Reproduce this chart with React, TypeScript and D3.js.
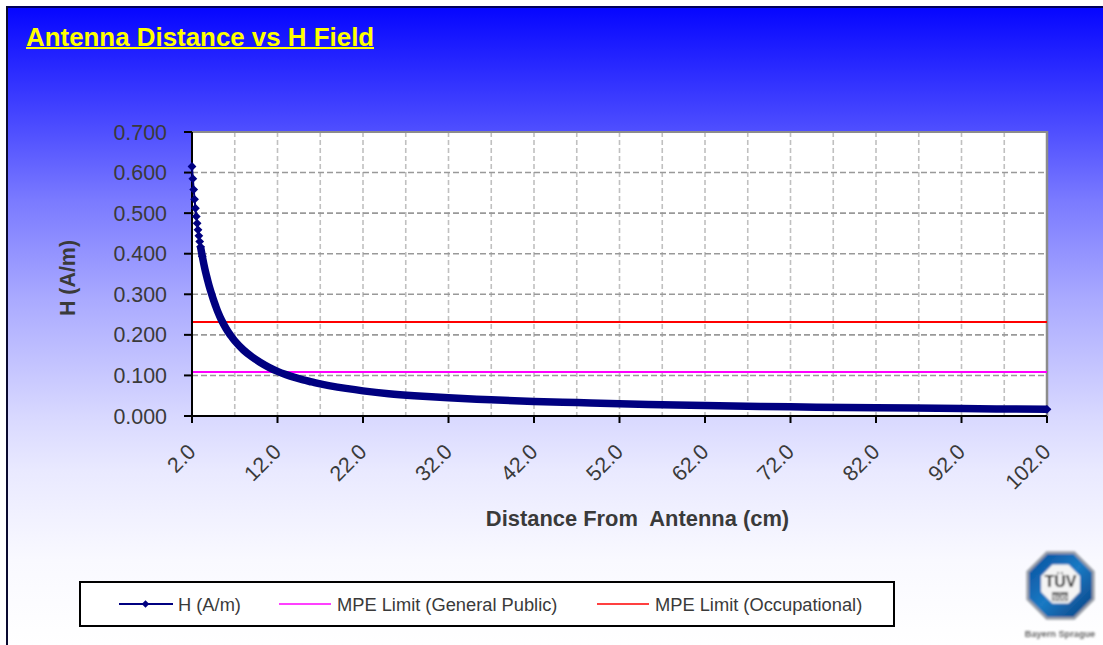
import React from "react";
import * as d3 from "d3";

const chartTitle = "Antenna Distance vs H Field";
const xAxisTitle = "Distance From  Antenna (cm)";
const yAxisTitle = "H (A/m)";
const distances = [2.0,2.1,2.2,2.3,2.4,2.5,2.6,2.7,2.8,2.9,3.0,3.2,3.4,3.6,3.8,4.0,4.27,4.5,4.75,5,5.46,6,6.5,7,8,9,10,11,12,13,14,15,16,17,18,20,22,25,28,32,37,42,47,52,57,62,72,82,92,102];
const hValues = [.615,.585,.558,.534,.512,.492,.475,.459,.444,.43,.417,.394,.373,.354,.337,.321,.302,.287,.272,.258,.236,.215,.199,.185,.163,.146,.132,.12,.11,.102,.095,.089,.084,.079,.075,.068,.062,.055,.05,.045,.04,.036,.033,.03,.028,.026,.0225,.0205,.0182,.0165];
const mpeGeneral = 0.1085;
const mpeOccupational = 0.2317;
const xTickValues = [2,12,22,32,42,52,62,72,82,92,102];
const xGridValues = [7,12,17,22,27,32,37,42,47,52,57,62,67,72,77,82,87,92,97];
const yTickValues = [0,.1,.2,.3,.4,.5,.6,.7];
const legendNames = ["H (A/m)","MPE Limit (General Public)","MPE Limit (Occupational)"];
const bgStops: [number,string][] = [[8,"#0606ff"],[133,"#5050ff"],[200,"#7a7aff"],[300,"#aaaaff"],[416,"#d8d8ff"],[470,"#e9e9ff"],[560,"#f9f9ff"],[645,"#ffffff"]];

const F = "'Liberation Sans', Arial, sans-serif";
const NAVY = "#000080";
const INK = "#3a3a3a";

export default function App() {
  const x = d3.scaleLinear().domain([2,102]).range([192,1047]);
  const y = d3.scaleLinear().domain([0,.7]).range([416,132]);
  const pts = distances.map((d,i)=>({d,h:hValues[i]}));
  const line = d3.line<{d:number,h:number}>().x(p=>x(p.d)).y(p=>y(p.h)).curve(d3.curveCatmullRom);
  const diamond = (cx:number,cy:number,r:number)=>`M${cx-r},${cy}L${cx},${cy-r}L${cx+r},${cy}L${cx},${cy+r}Z`;
  const thick = pts.filter(p=>p.d>=3);
  const octagon = (cx:number,cy:number,r:number)=>{
    const a=d3.range(8).map(i=>{const t=Math.PI/8+i*Math.PI/4;return `${cx+r*Math.cos(t)},${cy+r*Math.sin(t)}`});
    return a.join(" ");
  };
  return (
    <svg width={1103} height={645} style={{position:"absolute",left:0,top:0,display:"block"}} fontFamily={F}>
      <defs>
        <linearGradient id="bg" gradientUnits="userSpaceOnUse" x1="0" y1="0" x2="0" y2="645">
          {bgStops.map(([p,c])=><stop key={p} offset={p/645} stopColor={c}/>)}
        </linearGradient>
        <linearGradient id="ring" x1="0" y1="0" x2="1" y2="1">
          <stop offset="0" stopColor="#0a4f9c"/><stop offset="0.5" stopColor="#1a7ac4"/><stop offset="1" stopColor="#0a3f80"/>
        </linearGradient>
        <filter id="soft"><feGaussianBlur stdDeviation="0.9"/></filter>
      </defs>
      <rect width={1103} height={645} fill="#fff"/>
      <rect x={7} y={7} width={1096} height={638} fill="url(#bg)"/>
      <line x1={6} x2={1103} y1={7} y2={7} stroke="#00005a" strokeWidth={2}/>
      <line x1={7} x2={7} y1={6} y2={645} stroke="#0a0a30" strokeWidth={2}/>

      <text x={26} y={46} fontSize={25.9} fontWeight="bold" fill="#ffff00">{chartTitle}</text>
      <rect x={26} y={47} width={348} height={2} fill="#ffff00"/>

      <rect x={192} y={132} width={855} height={284} fill="#fff"/>
      {xGridValues.map(v=><line key={v} x1={x(v)} x2={x(v)} y1={132} y2={416} stroke="#c0c0c0" strokeWidth={1.6} strokeDasharray="5 3"/>)}
      {yTickValues.filter(v=>v>0&&v<.7).map(v=><line key={v} x1={192} x2={1047} y1={y(v)} y2={y(v)} stroke="#999" strokeWidth={1.6} strokeDasharray="6 3"/>)}
      <line x1={192} x2={1047} y1={132} y2={132} stroke="#8c8c8c" strokeWidth={2}/>
      <line x1={1047} x2={1047} y1={131} y2={416} stroke="#8c8c8c" strokeWidth={2.5}/>

      <line x1={x(2)} x2={x(102)} y1={y(mpeOccupational)} y2={y(mpeOccupational)} stroke="#ff0000" strokeWidth={2}/>
      <line x1={x(2)} x2={x(102)} y1={y(mpeGeneral)} y2={y(mpeGeneral)} stroke="#ff00ff" strokeWidth={2}/>

      <line x1={192} x2={192} y1={132} y2={416} stroke="#000" strokeWidth={2}/>
      <line x1={184} x2={1047} y1={416} y2={416} stroke="#000" strokeWidth={2}/>
      {yTickValues.map(v=><g key={v}>
        <line x1={184} x2={192} y1={y(v)} y2={y(v)} stroke="#000" strokeWidth={2}/>
        <text x={167} y={y(v)+7.5} fontSize={21.4} textAnchor="end" fill={INK}>{v.toFixed(3)}</text>
      </g>)}
      {xTickValues.map(v=><g key={v}>
        <line x1={x(v)} x2={x(v)} y1={416} y2={423} stroke="#000" strokeWidth={2}/>
        <text transform={`translate(${x(v)+1},${449}) rotate(-45)`} fontSize={21.4} textAnchor="end" dominantBaseline="middle" fill={INK}>{v.toFixed(1)}</text>
      </g>)}

      <path d={line(pts) ?? ""} fill="none" stroke={NAVY} strokeWidth={2}/>
      <path d={line(thick) ?? ""} fill="none" stroke={NAVY} strokeWidth={7.5}/>
      {pts.filter(p=>p.d<3.4).map(p=><path key={p.d} d={diamond(x(p.d),y(p.h),4.4)} fill={NAVY}/>)}
      <path d={diamond(x(102),y(.0165),4.4)} fill={NAVY}/>

      <text transform="translate(75,278) rotate(-90)" fontSize={21.4} fontWeight="bold" textAnchor="middle" fill={INK}>{yAxisTitle}</text>
      <text x={637.5} y={526} fontSize={21.9} fontWeight="bold" textAnchor="middle" fill={INK} style={{whiteSpace:"pre"}}>{xAxisTitle}</text>

      <rect x={80} y={582} width={814} height={44} fill="#fff" stroke="#000" strokeWidth={2}/>
      <line x1={119} x2={173} y1={604} y2={604} stroke={NAVY} strokeWidth={2}/>
      <path d={diamond(145.5,604,3.8)} fill={NAVY}/>
      <text x={178} y={611} fontSize={18.3} fill={INK}>{legendNames[0]}</text>
      <line x1={279} x2={331} y1={604} y2={604} stroke="#ff00ff" strokeWidth={1.5}/>
      <text x={337} y={611} fontSize={18.3} fill={INK}>{legendNames[1]}</text>
      <line x1={597} x2={649} y1={604} y2={604} stroke="#ff0000" strokeWidth={1.5}/>
      <text x={655} y={611} fontSize={18.3} fill={INK}>{legendNames[2]}</text>

      <g filter="url(#soft)">
        <polygon points={octagon(1060.5,585.5,37)} fill="#9a9fa8"/>
        <polygon points={octagon(1060.5,585.5,34)} fill="url(#ring)"/>
        <polygon points={octagon(1060.5,584,21)} fill="#f4f4f4"/>
        <text x={1060.5} y={587} fontSize={16} fontWeight="bold" textAnchor="middle" fill="#111">TÜV</text>
        <rect x={1052} y={592} width={16} height={9} fill="#666"/>
        <text x={1060} y={600} fontSize={7} fontWeight="bold" textAnchor="middle" fill="#fff">SÜD</text>
        <text x={1060} y={637} fontSize={9.2} fontWeight="bold" textAnchor="middle" fill="#666">Bayern Sprague</text>
      </g>
    </svg>
  );
}
